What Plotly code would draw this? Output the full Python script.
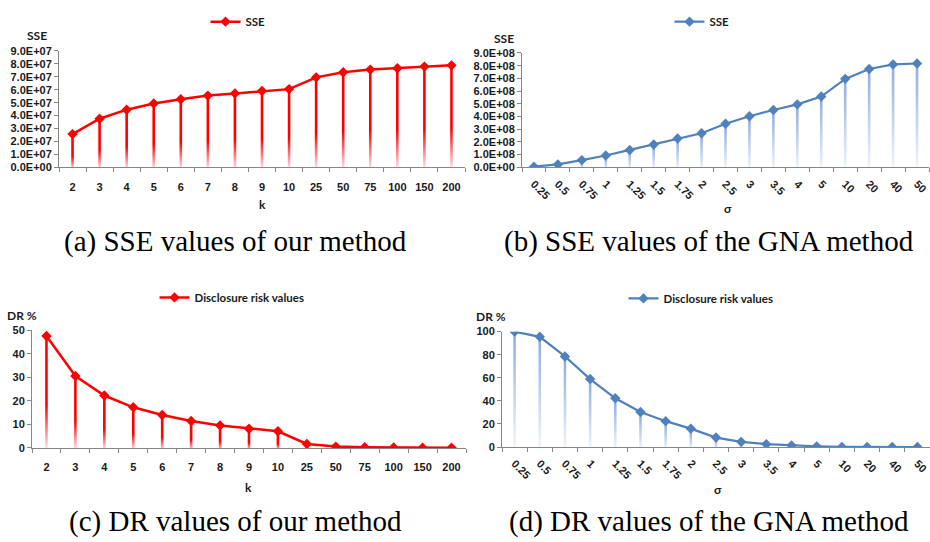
import plotly.graph_objects as go

# ---------------- data ----------------
k_labels = ['2', '3', '4', '5', '6', '7', '8', '9', '10', '25', '50', '75', '100', '150', '200']
sigma_labels = ['0.25', '0.5', '0.75', '1', '1.25', '1.5', '1.75', '2', '2.5', '3', '3.5', '4', '5',
                '10', '20', '40', '50']

sse_ours = [2.57e7, 3.76e7, 4.46e7, 4.94e7, 5.27e7, 5.55e7, 5.72e7, 5.90e7, 6.05e7,
            6.96e7, 7.36e7, 7.56e7, 7.66e7, 7.79e7, 7.89e7]
sse_gna = [0.05e8, 0.23e8, 0.57e8, 0.93e8, 1.37e8, 1.80e8, 2.27e8, 2.68e8, 3.43e8,
           4.02e8, 4.51e8, 4.95e8, 5.57e8, 6.96e8, 7.74e8, 8.10e8, 8.17e8]
dr_ours = [47.6, 30.6, 22.3, 17.3, 14.0, 11.5, 9.6, 8.2, 7.1, 1.7, 0.6, 0.3, 0.2, 0.1, 0.1]
dr_gna = [100, 95.5, 78.5, 58.9, 42.2, 30.3, 22.4, 15.9, 8.2, 4.5, 2.5, 1.4, 0.6, 0.1,
          0.05, 0.02, 0.01]

sse_ours_ticks = [0, 1e7, 2e7, 3e7, 4e7, 5e7, 6e7, 7e7, 8e7, 9e7]
sse_ours_ticktext = ['0.0E+00', '1.0E+07', '2.0E+07', '3.0E+07', '4.0E+07', '5.0E+07',
                     '6.0E+07', '7.0E+07', '8.0E+07', '9.0E+07']
sse_gna_ticks = [0, 1e8, 2e8, 3e8, 4e8, 5e8, 6e8, 7e8, 8e8, 9e8]
sse_gna_ticktext = ['0.0E+00', '1.0E+08', '2.0E+08', '3.0E+08', '4.0E+08', '5.0E+08',
                    '6.0E+08', '7.0E+08', '8.0E+08', '9.0E+08']
dr_ours_ticks = [0, 10, 20, 30, 40, 50]
dr_gna_ticks = [0, 20, 40, 60, 80, 100]

captions = ['(a) SSE values of our method', '(b) SSE values of the GNA method',
            '(c) DR values of our method', '(d) DR values of the GNA method']

# ---------------- styles ----------------
W, H = 930, 542
RED = '#FF0000'
BLUE = '#4F81BD'
AXIS_COL = '#868686'
TXT = '#1a1a1a'
RED_GRAD = [[0, 'rgb(255,236,240)'], [0.4, 'rgb(255,0,0)'], [1, 'rgb(255,0,0)']]
BLUE_GRAD = [[0, 'rgb(242,246,252)'], [1, 'rgb(140,172,222)']]


def px(x):
    return x / W


def py(y):
    return 1 - y / H


fig = go.Figure()


def add_panel(idx, labels, vals, color, grad, legend_name, leg_key, x_dom_px, half_px):
    xa = 'x' if idx == 1 else f'x{idx}'
    ya = 'y' if idx == 1 else f'y{idx}'
    n = len(labels)
    cat_px = (x_dom_px[1] - x_dom_px[0]) / n
    hw = half_px / cat_px
    for i, v in enumerate(vals):
        fig.add_trace(go.Scatter(
            x=[i - hw, i + hw, i + hw, i - hw, i - hw], y=[0, 0, v, v, 0],
            fill='toself', mode='none',
            fillgradient=dict(type='vertical', colorscale=grad, start=0, stop=v),
            xaxis=xa, yaxis=ya, showlegend=False, hoverinfo='skip'))
    fig.add_trace(go.Scatter(
        x=list(range(n)), y=vals, mode='lines+markers', name=legend_name,
        line=dict(color=color, width=2.5 if color == RED else 2.2),
        marker=dict(symbol='diamond', size=8, color=color),
        xaxis=xa, yaxis=ya, legend=leg_key, showlegend=True,
        text=labels, hovertemplate='%{text}: %{y}<extra></extra>'))


# panel positions in pixels: x from axis to right end, y top/bottom
pa = dict(x=(59, 465), y=(46, 165))
pb = dict(x=(522, 929), y=(48, 165))
pc = dict(x=(32, 466), y=(331.7, 452))
pd_ = dict(x=(502, 930), y=(333, 451))

add_panel(1, k_labels, sse_ours, RED, RED_GRAD, 'SSE', 'legend', pa['x'], 1.3)
add_panel(2, sigma_labels, sse_gna, BLUE, BLUE_GRAD, 'SSE', 'legend2', pb['x'], 1.3)
add_panel(3, k_labels, dr_ours, RED, RED_GRAD, 'Disclosure risk values', 'legend3', pc['x'], 1.3)
add_panel(4, sigma_labels, dr_gna, BLUE, BLUE_GRAD, 'Disclosure risk values', 'legend4', pd_['x'], 1.3)

tickfont = dict(family='Liberation Sans', size=11, color=TXT, weight='bold')


def xaxis_cfg(p, labels, angle):
    n = len(labels)
    return dict(
        domain=[px(p['x'][0]), px(p['x'][1])], range=[-0.5, n - 0.5],
        tickmode='array', tickvals=list(range(n)), ticktext=labels, tickangle=angle,
        ticks='outside', ticklen=9 if angle == 0 else 5, tickcolor='rgba(0,0,0,0)',
        minor=dict(tick0=0.5, dtick=1, ticks='outside', ticklen=4, tickcolor=AXIS_COL),
        showline=True, linecolor=AXIS_COL, linewidth=1, showgrid=False, zeroline=False,
        tickfont=tickfont, ticklabeloverflow='allow', fixedrange=True)


def yaxis_cfg(p, xa, rng, tickvals, ticktext):
    return dict(
        domain=[py(p['y'][1]), py(p['y'][0])], range=rng, anchor=xa,
        tickmode='array', tickvals=tickvals, ticktext=ticktext,
        ticks='outside', ticklen=4, tickcolor=AXIS_COL,
        showline=True, linecolor=AXIS_COL, linewidth=1, showgrid=False, zeroline=False,
        tickfont=tickfont, ticklabeloverflow='allow', fixedrange=True)


legend_common = dict(orientation='h', xanchor='center', yanchor='middle',
                     bgcolor='rgba(0,0,0,0)', itemwidth=30,
                     font=dict(family='Lato', size=11.5, color=TXT, weight='bold'))

fig.update_layout(
    width=W, height=H, margin=dict(l=0, r=0, t=0, b=0),
    paper_bgcolor='white', plot_bgcolor='white',
    xaxis=dict(**xaxis_cfg(pa, k_labels, 0), anchor='y'),
    yaxis=yaxis_cfg(pa, 'x', [0, 9e7], sse_ours_ticks, sse_ours_ticktext),
    xaxis2=dict(**xaxis_cfg(pb, sigma_labels, 45), anchor='y2'),
    yaxis2=yaxis_cfg(pb, 'x2', [0, 9e8], sse_gna_ticks, sse_gna_ticktext),
    xaxis3=dict(**xaxis_cfg(pc, k_labels, 0), anchor='y3'),
    yaxis3=yaxis_cfg(pc, 'x3', [0, 50], dr_ours_ticks, [str(t) for t in dr_ours_ticks]),
    xaxis4=dict(**xaxis_cfg(pd_, sigma_labels, 45), anchor='y4'),
    yaxis4=yaxis_cfg(pd_, 'x4', [0, 100], dr_gna_ticks, [str(t) for t in dr_gna_ticks]),
    legend=dict(x=px(238), y=py(16), **legend_common),
    legend2=dict(x=px(702), y=py(16), **legend_common),
    legend3=dict(x=px(232), y=py(298), **legend_common),
    legend4=dict(x=px(701), y=py(299), **legend_common),
    showlegend=True,
)

small_bold = dict(family='Lato', size=12, color=TXT, weight='bold')
annots = [
    (36.7, 30, 'SSE'), (504, 33, 'SSE'), (22, 317, 'DR %'), (491, 318, 'DR %'),
    (262, 203, 'k'), (728, 207, 'σ'), (248, 492, 'k'), (718, 494, 'σ'),
]
for x, y, t in annots:
    fig.add_annotation(x=px(x), y=py(y), xref='paper', yref='paper', text=t,
                       showarrow=False, xanchor='center', yanchor='middle', font=small_bold)

cap_pos = [(235, 241), (709, 241), (235, 527), (709, 527)]
for (x, y), t in zip(cap_pos, captions):
    fig.add_annotation(x=px(x), y=py(y), xref='paper', yref='paper', text=t,
                       showarrow=False, xanchor='center', yanchor='middle',
                       font=dict(family='Liberation Serif', size=29, color='black'))

fig.write_html('out.html')
